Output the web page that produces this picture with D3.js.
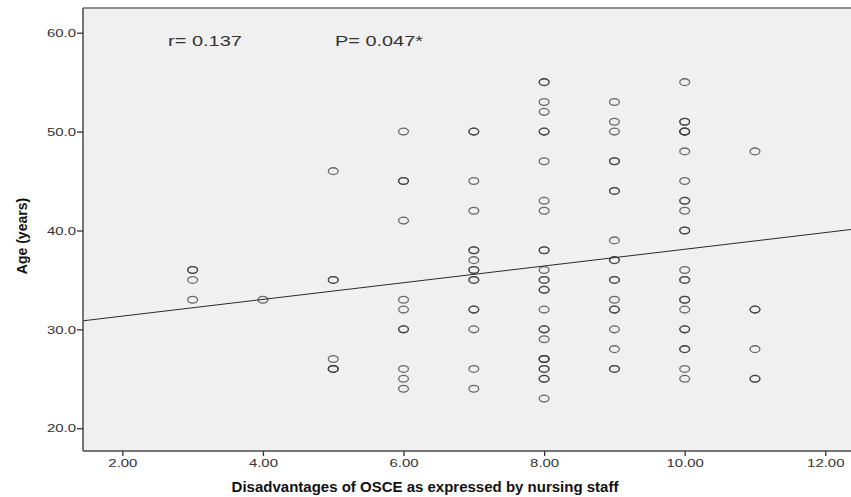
<!DOCTYPE html>
<html>
<head>
<meta charset="utf-8">
<script src="https://cdn.jsdelivr.net/npm/d3@7"></script>
<style>
  html, body { margin: 0; padding: 0; background: #fff; }
  svg { display: block; }
</style>
</head>
<body>
<svg id="chart" width="851" height="497"></svg>
<script>
// ---- data: ages (years) observed at each disadvantage score; repeats = overlapping cases ----
const scores = [3, 4, 5, 6, 7, 8, 9, 10, 11];
const agesAt3 = [36, 36, 35, 33];
const agesAt4 = [33];
const agesAt5 = [46, 35, 35, 27, 26, 26, 26];
const agesAt6 = [50, 45, 45, 41, 33, 32, 30, 30, 26, 25, 24];
const agesAt7 = [50, 50, 45, 42, 38, 38, 37, 36, 36, 35, 35, 32, 32, 30, 26, 24];
const agesAt8 = [55, 55, 53, 52, 50, 50, 47, 43, 42, 38, 38, 36, 35, 35, 34, 34, 32, 30, 30, 29, 27, 27, 27, 26, 26, 25, 25, 23];
const agesAt9 = [53, 51, 50, 47, 47, 44, 44, 39, 37, 37, 35, 35, 33, 32, 32, 30, 28, 26, 26];
const agesAt10 = [55, 51, 51, 50, 50, 50, 48, 45, 43, 43, 42, 40, 40, 36, 35, 35, 33, 33, 32, 30, 30, 28, 28, 26, 25];
const agesAt11 = [48, 32, 32, 28, 25, 25];
const xTicks = [2, 4, 6, 8, 10, 12];
const yTicks = [20, 30, 40, 50, 60];
const fitIntercept = 29.65;
const fitSlope = 0.845;
const annotR = "r= 0.137";
const annotP = "P= 0.047*";
const xTitle = "Disadvantages of OSCE as expressed by nursing staff";
const yTitle = "Age (years)";

(function () {
const ageLists = [agesAt3, agesAt4, agesAt5, agesAt6, agesAt7, agesAt8, agesAt9, agesAt10, agesAt11];
const points = [];
scores.forEach((s, i) => ageLists[i].forEach(a => points.push({ s, a })));

// ---- layout ----
const svg = d3.select("#chart");
const pLeft = 83, pTop = 8, pBottom = 451, pRight = 853.4;
const x = d3.scaleLinear().domain([1.44, 12.4]).range([pLeft, pRight]);
const y = d3.scaleLinear().domain([17.7, 62.5]).range([pBottom, pTop]);
const stretch = 1.3;

// plot background
svg.append("rect")
  .attr("x", pLeft).attr("y", pTop)
  .attr("width", pRight - pLeft).attr("height", pBottom - pTop)
  .attr("fill", "#f0f0f0");

svg.append("clipPath").attr("id", "plotclip")
  .append("rect").attr("x", pLeft).attr("y", pTop)
  .attr("width", pRight - pLeft).attr("height", pBottom - pTop);

const plot = svg.append("g").attr("clip-path", "url(#plotclip)");

// fit line
const xd = x.domain();
plot.append("line")
  .attr("x1", x(xd[0])).attr("y1", y(fitIntercept + fitSlope * xd[0]))
  .attr("x2", x(xd[1])).attr("y2", y(fitIntercept + fitSlope * xd[1]))
  .attr("stroke", "#2a2a2a").attr("stroke-width", 1);

// points (hollow ellipses, overlapping repeats appear darker)
plot.selectAll("ellipse.pt").data(points).enter().append("ellipse")
  .attr("class", "pt")
  .attr("cx", d => x(d.s)).attr("cy", d => y(d.a))
  .attr("rx", 4.9).attr("ry", 3.4)
  .attr("fill", "none")
  .attr("stroke", "#3a3a3a").attr("stroke-opacity", 0.75)
  .attr("stroke-width", 1.3);

// frame
svg.append("line").attr("x1", pLeft).attr("x2", pRight).attr("y1", pTop).attr("y2", pTop)
  .attr("stroke", "#6a6a6a").attr("stroke-width", 1.5);
svg.append("line").attr("x1", pLeft).attr("x2", pRight).attr("y1", pBottom).attr("y2", pBottom)
  .attr("stroke", "#4a4a4a").attr("stroke-width", 1.5);
svg.append("line").attr("x1", pLeft).attr("x2", pLeft).attr("y1", pTop).attr("y2", pBottom)
  .attr("stroke", "#4a4a4a").attr("stroke-width", 1.5);

// axes
const font = "'Liberation Sans', Arial, sans-serif";
const xAxis = d3.axisBottom(x).tickValues(xTicks).tickFormat(d3.format(".2f"))
  .tickSize(5).tickSizeOuter(0);
const gx = svg.append("g").attr("transform", `translate(0,${pBottom})`).call(xAxis);
gx.select(".domain").remove();
gx.selectAll(".tick line").attr("stroke", "#333").attr("stroke-width", 1.3);
gx.selectAll(".tick text").attr("font-family", font).attr("font-size", 11.5)
  .attr("fill", "#333").attr("dy", "0.71em").attr("y", 8)
  .attr("transform", `scale(${stretch},1)`);

const yAxis = d3.axisLeft(y).tickValues(yTicks).tickFormat(d3.format(".1f"))
  .tickSize(6).tickSizeOuter(0);
const gy = svg.append("g").attr("transform", `translate(${pLeft},0)`).call(yAxis);
gy.select(".domain").remove();
gy.selectAll(".tick line").attr("stroke", "#333").attr("stroke-width", 1.3);
gy.selectAll(".tick text").attr("font-family", font).attr("font-size", 11.5)
  .attr("fill", "#333").attr("x", -7 / stretch)
  .attr("transform", `scale(${stretch},1)`);

// annotations
svg.append("text").attr("x", 168).attr("y", 46)
  .attr("font-family", font).attr("font-size", 15.5).attr("fill", "#333")
  .attr("textLength", 74).attr("lengthAdjust", "spacingAndGlyphs").text(annotR);
svg.append("text").attr("x", 335).attr("y", 46)
  .attr("font-family", font).attr("font-size", 15.5).attr("fill", "#333")
  .attr("textLength", 88).attr("lengthAdjust", "spacingAndGlyphs").text(annotP);

// axis titles
svg.append("text").attr("x", 425).attr("y", 492)
  .attr("text-anchor", "middle")
  .attr("font-family", font).attr("font-size", 15).attr("font-weight", "bold")
  .attr("fill", "#111").text(xTitle);

svg.append("text")
  .attr("transform", `translate(27,236) rotate(-90)`)
  .attr("text-anchor", "middle")
  .attr("font-family", "'Liberation Sans Narrow', 'Liberation Sans', Arial, sans-serif")
  .attr("font-size", 14).attr("font-weight", "bold")
  .attr("fill", "#111").text(yTitle);
})();
</script>
</body>
</html>
